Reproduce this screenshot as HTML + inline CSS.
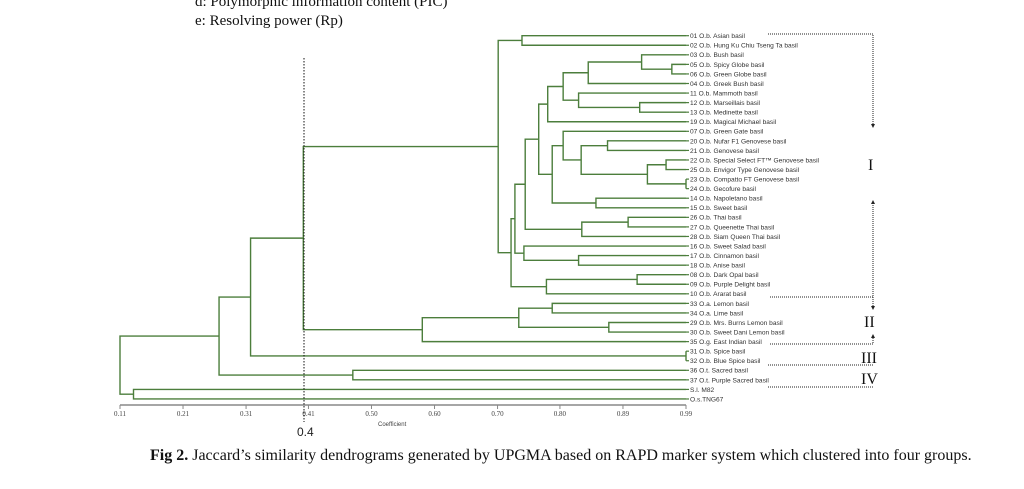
<!DOCTYPE html>
<html><head><meta charset="utf-8">
<style>
html,body{margin:0;padding:0;background:#fff;}
body{width:1024px;height:489px;overflow:hidden;position:relative;}
svg{position:absolute;left:0;top:0;}
.ser{font-family:"Liberation Serif",serif;}
.san{font-family:"Liberation Sans",sans-serif;}
</style></head>
<body>
<svg id="chart" width="1024" height="489" viewBox="0 0 1024 489">
  <text class="ser" x="195" y="6" font-size="15" fill="#111">d: Polymorphic information content (PIC)</text>
  <text class="ser" x="195" y="25" font-size="15" fill="#111">e: Resolving power (Rp)</text>
  <g id="tree"></g>
  <g id="labels"></g>
  <g id="axis"></g>
  <line x1="304" y1="58" x2="304" y2="422" stroke="#111" stroke-width="1" stroke-dasharray="1.5,1.5"/>
  <text class="san" x="297" y="436" font-size="12" fill="#222">0.4</text>
  <text class="san" x="378" y="426" font-size="6" fill="#444">Coefficient</text>
  <g stroke="#222" stroke-width="1" stroke-dasharray="1,1" fill="none">
    <path d="M768 34 H873 V125"/>
    <path d="M873 203 V297 H770"/>
    <path d="M873 297 V306"/>
    <path d="M873 338 V344 H770"/>
    <path d="M768 365 H873"/>
    <path d="M768 387 H873"/>
  </g>
  <g fill="#222">
    <path d="M871 124 L875 124 L873 128 Z"/><path d="M871 204 L875 204 L873 200 Z"/>
    <path d="M871 306 L875 306 L873 310 Z"/><path d="M871 338 L875 338 L873 334 Z"/>
  </g>
  <text class="ser" x="868" y="170" font-size="16" fill="#111">I</text>
  <text class="ser" x="864" y="327" font-size="16" fill="#111">II</text>
  <text class="ser" x="861" y="363" font-size="16" fill="#111">III</text>
  <text class="ser" x="861" y="384" font-size="16" fill="#111">IV</text>
  <text class="ser" x="150" y="460" font-size="16" fill="#111"><tspan font-weight="bold">Fig 2.</tspan> Jaccard’s similarity dendrograms generated by UPGMA based on RAPD marker system which clustered into four groups.</text>
</svg>
<script>
const leafLabels=["01 O.b. Asian basil","02 O.b. Hung Ku Chiu Tseng Ta basil","03 O.b. Bush basil","05 O.b. Spicy Globe basil","06 O.b. Green Globe basil","04 O.b. Greek Bush basil","11 O.b. Mammoth basil","12 O.b. Marseillais basil","13 O.b. Medinette basil","19 O.b. Magical Michael basil","07 O.b. Green Gate basil","20 O.b. Nufar F1 Genovese basil","21 O.b. Genovese basil","22 O.b. Special Select FT™ Genovese basil","25 O.b. Envigor Type Genovese basil","23 O.b. Compatto FT Genovese basil","24 O.b. Gecofure basil","14 O.b. Napoletano basil","15 O.b. Sweet basil","26 O.b. Thai basil","27 O.b. Queenette Thai basil","28 O.b. Siam Queen Thai basil","16 O.b. Sweet Salad basil","17 O.b. Cinnamon basil","18 O.b. Anise basil","08 O.b. Dark Opal basil","09 O.b. Purple Delight basil","10 O.b. Ararat basil","33 O.a. Lemon basil","34 O.a. Lime basil","29 O.b. Mrs. Burns Lemon basil","30 O.b. Sweet Dani Lemon basil","35 O.g. East Indian basil","31 O.b. Spice basil","32 O.b. Blue Spice basil","36 O.t. Sacred basil","37 O.t. Purple Sacred basil","S.l. M82","O.s.TNG67"];
const mergeLeft =[3,2,40,7,6,41,44,13,15,46,11,49,10,17,51,45,19,55,54,23,22,57,25,61,60,0,64,28,30,66,68,65,33,70,35,72,37,74];
const mergeRight=[4,39,5,8,42,43,9,14,16,47,12,48,50,18,52,53,20,21,56,24,58,59,26,27,62,1,63,29,31,67,32,69,34,71,36,73,38,75];
const mergeHeight=[0.968,0.921,0.838,0.918,0.823,0.799,0.775,0.959,0.99,0.930,0.868,0.827,0.799,0.850,0.782,0.761,0.900,0.828,0.740,0.823,0.738,0.724,0.914,0.773,0.718,0.735,0.698,0.782,0.870,0.730,0.580,0.395,0.99,0.313,0.472,0.264,0.131,0.11];
const tickValues=[0.11,0.208,0.306,0.403,0.501,0.599,0.697,0.794,0.892,0.99];
const tickLabels=["0.11","0.21","0.31","0.41","0.50","0.60","0.70","0.80","0.89","0.99"];

const NS="http://www.w3.org/2000/svg";
const X0=120,X1=686,V0=0.11,V1=0.99;
function xScale(v){return X0+(v-V0)/(V1-V0)*(X1-X0);}
function yLeaf(i){return 35.7+i*9.56;}
const tree=document.getElementById('tree');
const labels=document.getElementById('labels');
const axis=document.getElementById('axis');
function mk(tag,attrs,parent){const e=document.createElementNS(NS,tag);for(const k in attrs)e.setAttribute(k,attrs[k]);parent.appendChild(e);return e;}
const nL=leafLabels.length;
const posY=[],posX=[];
leafLabels.forEach((t,i)=>{posY[i]=yLeaf(i);posX[i]=xScale(V1);
  const tx=mk('text',{x:690,y:posY[i]+2.4,'font-size':6.6,fill:'#333','font-family':'"Liberation Sans",sans-serif'},labels);
  
  
  tx.textContent=t;
});
mergeHeight.forEach((h,k)=>{
  const a=mergeLeft[k],b=mergeRight[k],id=nL+k,px=xScale(h);
  const ya=posY[a],yb=posY[b];
  const p=mk('path',{d:`M${posX[a]} ${ya} H${px} V${yb} H${posX[b]}`,fill:'none',stroke:'#4c7e3c','stroke-width':1.4},tree);
  
  
  posY[id]=(ya+yb)/2;posX[id]=px;
});
// leaf lines to labels
leafLabels.forEach((t,i)=>{
  const l=mk('line',{x1:xScale(V1),y1:posY[i],x2:689,y2:posY[i],stroke:'#4c7e3c','stroke-width':1.2},tree);
  
  
});
const al=mk('line',{x1:xScale(V0),y1:405,x2:xScale(V1),y2:405,stroke:'#888','stroke-width':1.5},axis);


tickValues.forEach((v,i)=>{
  const tk=mk('line',{x1:xScale(v),y1:405,x2:xScale(v),y2:409,stroke:'#888','stroke-width':1},axis);
  
  
  const tl=mk('text',{x:xScale(v),y:416,'font-size':7,'text-anchor':'middle',fill:'#444','font-family':'"Liberation Serif",serif'},axis);
  
  
  tl.textContent=tickLabels[i];
});
</script>
</body></html>
